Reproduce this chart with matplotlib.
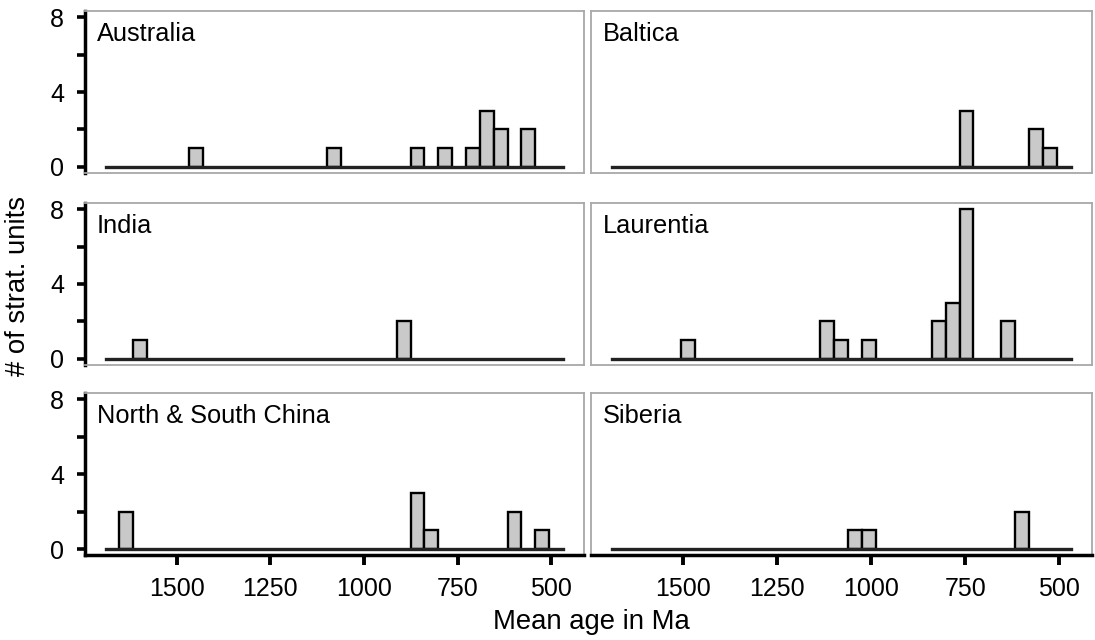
import matplotlib.pyplot as plt

plt.rcParams['font.family'] = ['Liberation Sans', 'DejaVu Sans']

# histogram bins (Ma), 37 Ma wide, from 1690 down to 469
bin_width = 37
hist_range = [1690, 469]

regions = ["Australia", "Baltica", "India", "Laurentia",
           "North & South China", "Siberia"]

# bin centres (Ma) and counts per region
australia_age = [1449.5, 1079.5, 857.5, 783.5, 709.5, 672.5, 635.5, 561.5]
australia_n = [1, 1, 1, 1, 1, 3, 2, 2]

baltica_age = [746.5, 561.5, 524.5]
baltica_n = [3, 2, 1]

india_age = [1597.5, 894.5]
india_n = [1, 2]

laurentia_age = [1486.5, 1116.5, 1079.5, 1005.5, 820.5, 783.5, 746.5, 635.5]
laurentia_n = [1, 2, 1, 1, 2, 3, 8, 2]

china_age = [1634.5, 857.5, 820.5, 598.5, 524.5]
china_n = [2, 3, 1, 2, 1]

siberia_age = [1042.5, 1005.5, 598.5]
siberia_n = [1, 1, 2]

ages = [australia_age, baltica_age, india_age, laurentia_age, china_age, siberia_age]
counts = [australia_n, baltica_n, india_n, laurentia_n, china_n, siberia_n]

x_ticks = [1500, 1250, 1000, 750, 500]
y_ticks = [0, 2, 4, 6, 8]
y_labels = ["0", "", "4", "", "8"]

fig = plt.figure(figsize=(10.95, 6.4), dpi=100)

col_left = [0.0776, 0.5397]
col_width = [0.4557, 0.4575]
row_bottom = [0.7297, 0.4297, 0.1328]
row_height = 0.2531

frame_grey = "#a8a8a8"

for i, region in enumerate(regions):
    row = i // 2
    col = i % 2
    ax = fig.add_axes([col_left[col], row_bottom[row], col_width[col], row_height])

    ax.bar(ages[i], counts[i], width=bin_width, color="#c9c9c9",
           edgecolor="black", linewidth=1.7, zorder=3)
    ax.plot(hist_range, [0, 0], color="#222222", linewidth=2.4, zorder=4)

    ax.set_xlim(1745, 413)
    ax.set_ylim(-0.32, 8.32)

    for side in ["top", "right", "left", "bottom"]:
        ax.spines[side].set_color(frame_grey)
        ax.spines[side].set_linewidth(1.3)

    ax.text(0.024, 0.935, region, transform=ax.transAxes, fontsize=18.3,
            ha="left", va="top")

    if col == 0:
        ax.spines["left"].set_color("black")
        ax.spines["left"].set_linewidth(2.5)
        ax.set_yticks(y_ticks)
        ax.set_yticklabels(y_labels)
        ax.tick_params(axis="y", length=6, width=2.6, pad=9, labelsize=18)
    else:
        ax.set_yticks([])

    if row == 2:
        ax.spines["bottom"].set_color("black")
        ax.spines["bottom"].set_linewidth(2.5)
        ax.set_xticks(x_ticks)
        ax.tick_params(axis="x", length=7, width=2.8, pad=9, labelsize=18)
    else:
        ax.set_xticks([])

fig.text(0.54, 0.028, "Mean age in Ma", ha="center", va="center", fontsize=19.8)
fig.text(0.0164, 0.553, "# of strat. units", ha="center", va="center",
         rotation=90, fontsize=19.8)

plt.savefig("out.png", dpi=100)
